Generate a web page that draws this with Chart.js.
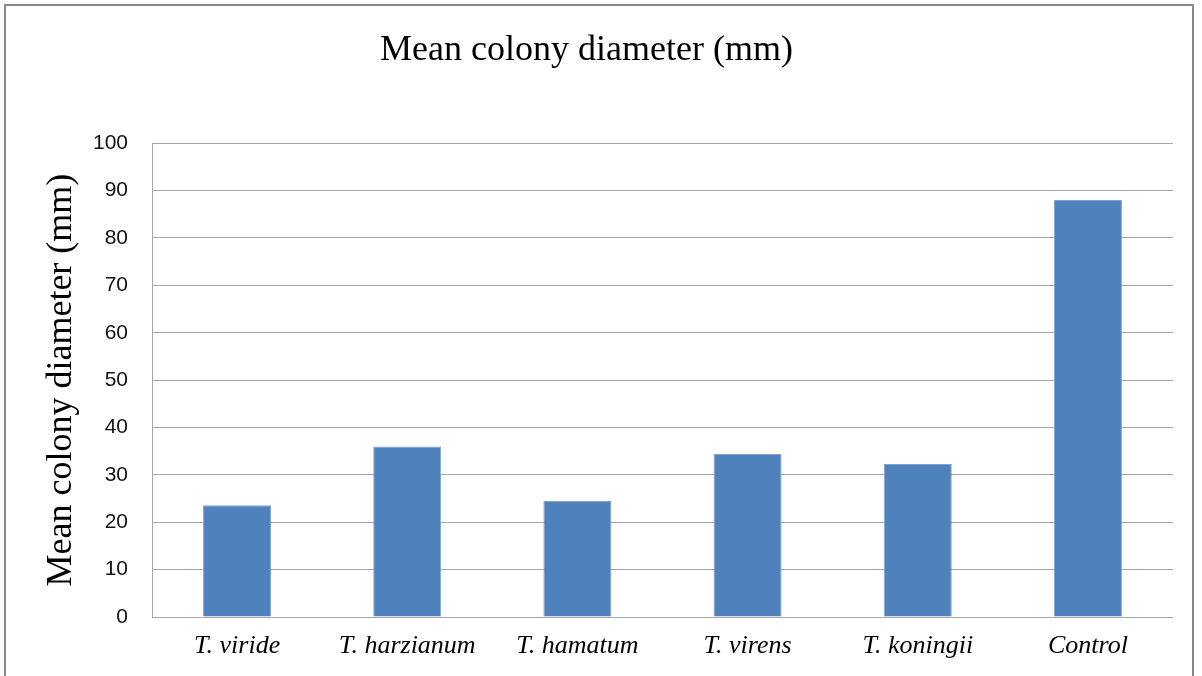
<!DOCTYPE html>
<html>
<head>
<meta charset="utf-8">
<script src="https://cdn.jsdelivr.net/npm/chart.js@4"></script>
<style>
  html, body { margin:0; padding:0; background:#fff; width:1202px; height:676px; overflow:hidden; }
  #wrap { position:absolute; left:0; top:0; width:1202px; height:676px; }
  #frame { position:absolute; left:4px; top:4px; width:1186px; height:700px; border:2px solid #8a8a8a; pointer-events:none; }
</style>
</head>
<body>
<div id="wrap"><canvas id="c" width="1202" height="676"></canvas></div>
<div id="frame"></div>
<script>
const categories = ["T. viride", "T. harzianum", "T. hamatum", "T. virens", "T. koningii", "Control"];
const meanDiameter = [23.6, 36.0, 24.5, 34.4, 32.3, 88.0];
const yTicks = [0, 10, 20, 30, 40, 50, 60, 70, 80, 90, 100];
const chartTitle = "Mean colony diameter (mm)";
const yTitle = "Mean colony diameter (mm)";

new Chart(document.getElementById('c'), {
  type: 'bar',
  data: {
    labels: categories,
    datasets: [{
      data: meanDiameter,
      backgroundColor: '#4f81bd',
      borderColor: '#7ea3d3',
      borderWidth: 1,
      barPercentage: 0.4,
      categoryPercentage: 1.0
    }]
  },
  options: {
    responsive: false,
    animation: false,
    layout: { padding: { left: 0, right: 29, top: 0, bottom: 0 } },
    plugins: {
      legend: { display: false },
      tooltip: { enabled: false },
      title: {
        display: true,
        text: chartTitle,
        color: '#000',
        font: { family: '"Liberation Serif", "Times New Roman", serif', size: 36, weight: 'normal' },
        padding: { top: 29, bottom: 71 }
      }
    },
    scales: {
      x: {
        grid: { display: false, drawTicks: false },
        border: { display: false },
        ticks: {
          color: '#000',
          padding: 14,
          font: { family: '"Liberation Serif", "Times New Roman", serif', size: 26, style: 'italic' },
          maxRotation: 0
        },
        afterFit: s => { s.height = 59; }
      },
      y: {
        min: 0, max: 100,
        afterBuildTicks: s => { s.ticks = yTicks.map(v => ({ value: v })); },
        grid: { color: '#a6a6a6', lineWidth: 1, drawTicks: false },
        border: { display: true, color: '#a6a6a6', width: 1 },
        ticks: {
          color: '#111',
          padding: 24,
          font: { family: '"Liberation Sans", Arial, sans-serif', size: 21 }
        },
        title: {
          display: true,
          text: yTitle,
          color: '#000',
          font: { family: '"Liberation Serif", "Times New Roman", serif', size: 36, weight: 'normal' },
          padding: { top: 40, bottom: 0 }
        },
        afterFit: s => { s.width = 152; }
      }
    }
  }
});
</script>
</body>
</html>
